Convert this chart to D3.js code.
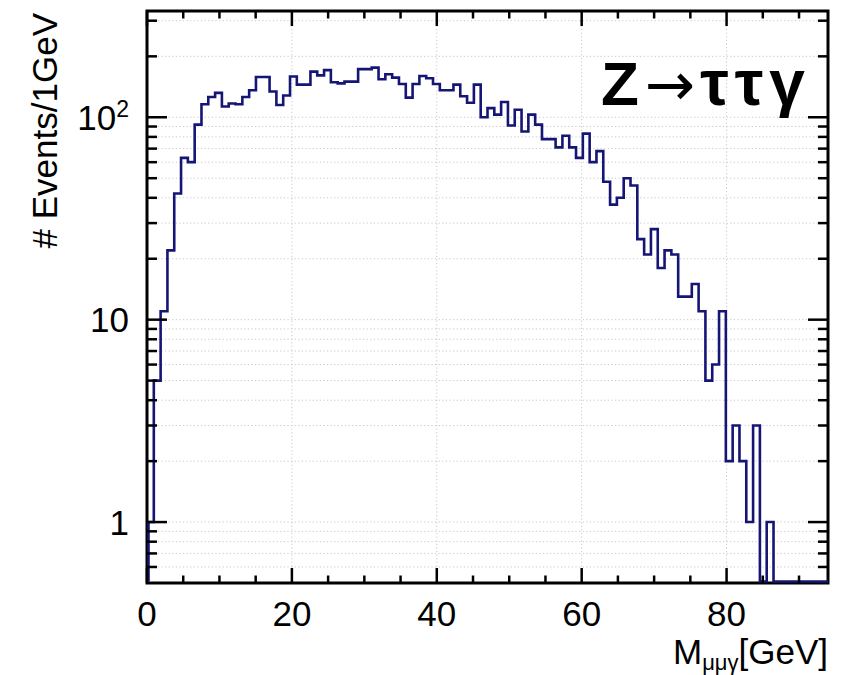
<!DOCTYPE html>
<html><head><meta charset="utf-8">
<script src="https://cdn.jsdelivr.net/npm/d3@7"></script>
<style>
body{margin:0;background:#fff}
svg{display:block}
text{font-family:"Liberation Sans",Arial,Helvetica,sans-serif;fill:#000}
</style>
</head><body>
<svg id="chart" width="847" height="675"></svg>
<script>
// ---- data ----
const binLow = 0;
const binHigh = 94;
const nBins = 100;
const counts = [
  1, 5, 11, 22, 42, 63, 60, 92, 116, 126,
  132, 113, 117, 116, 126, 136, 158, 158, 134, 115,
  128, 159, 145, 145, 168, 161, 171, 149, 147, 150,
  150, 173, 173, 176, 154, 163, 157, 146, 125, 146,
  160, 156, 146, 136, 136, 145, 127, 118, 145, 100,
  111, 103, 119, 91, 109, 85, 103, 92, 78, 78,
  71, 81, 71, 63, 83, 60, 68, 48, 37, 40,
  50, 46, 25, 21, 28, 18, 22, 21, 13, 13,
  15, 11, 5, 6, 11, 2, 3, 2, 1, 3,
  0, 1, 0, 0, 0, 0, 0, 0, 0, 0
];
const xMajorTicks = [0, 20, 40, 60, 80];
const xMinorTicks = [5, 10, 15, 25, 30, 35, 45, 50, 55, 65, 70, 75, 85, 90];
const yMajorTicks = [1, 10, 100];
const yMajorLabels = [["1", ""], ["10", ""], ["10", "2"]];
const yMinorTicks = [0.6, 0.7, 0.8, 0.9, 2, 3, 4, 5, 6, 7, 8, 9, 20, 30, 40, 50, 60, 70, 80, 90, 200, 300];
const yDomain = [0.5, 335];
const yTitle = "# Events/1GeV";
const xTitleMain = "M";
const xTitleSub = "μμγ";
const xTitleUnit = "[GeV]";
const labelParts = ["Z", "→", "ττγ"];

// ---- layout ----
const svg = d3.select("#chart");
const L = 147, R = 828, T = 11, B = 583;
const x = d3.scaleLinear().domain([binLow, binHigh]).range([L, R]);
const y = d3.scaleLog().domain(yDomain).range([B, T]);
const bw = (binHigh - binLow) / nBins;

// grid
const grid = svg.append("g").attr("stroke", "#c8c8c8").attr("stroke-width", 1).attr("stroke-dasharray", "1.2,2.4");
grid.selectAll("line.h").data(yMajorTicks.concat(yMinorTicks)).enter().append("line")
  .attr("x1", L).attr("x2", R).attr("y1", d => y(d)).attr("y2", d => y(d));
grid.selectAll("line.v").data(xMajorTicks.filter(d => d > 0)).enter().append("line")
  .attr("y1", T).attr("y2", B).attr("x1", d => x(d)).attr("x2", d => x(d));

// frame
svg.append("rect").attr("x", L).attr("y", T).attr("width", R - L).attr("height", B - T)
  .attr("fill", "none").attr("stroke", "#000").attr("stroke-width", 3);

// histogram outline (zero bins sit on the lower edge)
svg.append("clipPath").attr("id", "clip").append("rect")
  .attr("x", L).attr("y", T).attr("width", R - L).attr("height", B - T + 2);
const yZero = B - 1.5;
const pts = [[x(binLow) + 1.5, yZero]];
counts.forEach((c, i) => {
  const yy = c > 0 ? y(c) : yZero;
  pts.push([x(binLow + i * bw) + (i === 0 ? 1.5 : 0), yy]);
  pts.push([x(binLow + (i + 1) * bw), yy]);
});
pts.push([x(binHigh), yZero]);
svg.append("path").attr("clip-path", "url(#clip)")
  .attr("d", d3.line()(pts))
  .attr("fill", "none").attr("stroke", "#151575").attr("stroke-width", 2.6)
  .attr("stroke-linejoin", "miter");

// ticks
const tk = svg.append("g").attr("stroke", "#000").attr("stroke-width", 2.5);
xMajorTicks.forEach(d => {
  tk.append("line").attr("x1", x(d)).attr("x2", x(d)).attr("y1", B).attr("y2", B - 15);
  tk.append("line").attr("x1", x(d)).attr("x2", x(d)).attr("y1", T).attr("y2", T + 15);
});
xMinorTicks.forEach(d => {
  tk.append("line").attr("x1", x(d)).attr("x2", x(d)).attr("y1", B).attr("y2", B - 7.5);
  tk.append("line").attr("x1", x(d)).attr("x2", x(d)).attr("y1", T).attr("y2", T + 7.5);
});
yMajorTicks.forEach(d => {
  tk.append("line").attr("x1", L).attr("x2", L + 20).attr("y1", y(d)).attr("y2", y(d));
  tk.append("line").attr("x1", R).attr("x2", R - 20).attr("y1", y(d)).attr("y2", y(d));
});
yMinorTicks.forEach(d => {
  tk.append("line").attr("x1", L).attr("x2", L + 10).attr("y1", y(d)).attr("y2", y(d));
  tk.append("line").attr("x1", R).attr("x2", R - 10).attr("y1", y(d)).attr("y2", y(d));
});

// tick labels
xMajorTicks.forEach(d => {
  svg.append("text").attr("x", x(d)).attr("y", 626).attr("text-anchor", "middle")
    .attr("font-size", 35).text(d);
});
yMajorTicks.forEach((d, i) => {
  const t = svg.append("text").attr("x", 129).attr("y", y(d) + 12.5).attr("text-anchor", "end").attr("font-size", 35);
  t.append("tspan").text(yMajorLabels[i][0]);
  if (yMajorLabels[i][1]) t.append("tspan").attr("font-size", 23).attr("dy", -13).text(yMajorLabels[i][1]);
});

// axis titles
svg.append("text").attr("transform", `translate(57,${T + 2}) rotate(-90)`)
  .attr("text-anchor", "end").attr("font-size", 35).text(yTitle);
const xt = svg.append("text").attr("x", R).attr("y", 664).attr("text-anchor", "end").attr("font-size", 35);
xt.append("tspan").text(xTitleMain);
xt.append("tspan").attr("font-size", 22).attr("dy", 6).text(xTitleSub);
xt.append("tspan").attr("dy", -6).text(xTitleUnit);

// label
const lab = svg.append("text").attr("x", 601).attr("y", 105).attr("font-size", 62).attr("font-weight", "bold");
lab.append("tspan").text(labelParts[0]);
lab.append("tspan").attr("font-family", "DejaVu Sans").attr("font-weight", "normal").attr("font-size", 60).attr("dx", 6).text(labelParts[1]);
lab.append("tspan").attr("dx", 5).attr("font-size", 64).attr("letter-spacing", 6).text(labelParts[2]);
</script>
</body></html>
